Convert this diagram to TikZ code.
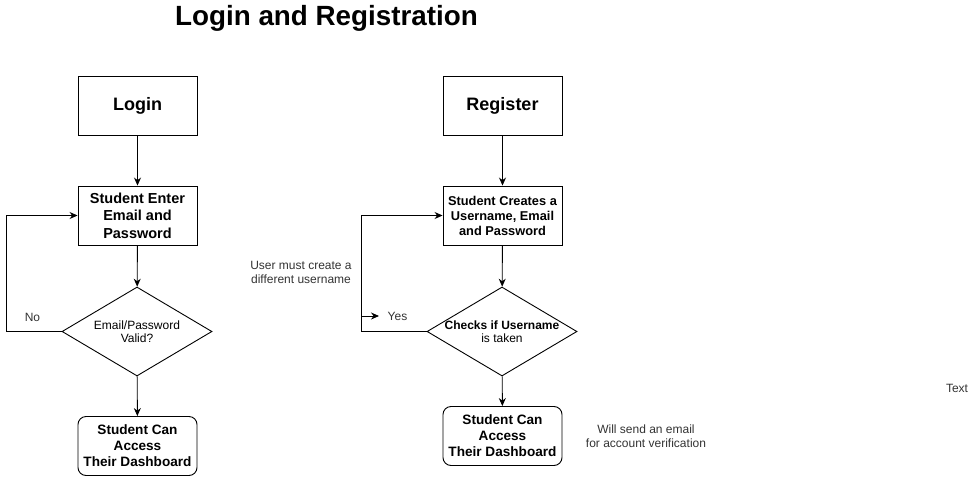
\documentclass[tikz,border=0pt]{standalone}
\usepackage{fontspec}
\setmainfont{Liberation Sans}
\usetikzlibrary{shapes.geometric,arrows.meta}
\definecolor{lbl}{HTML}{333333}
\tikzset{
  x=1pt,y=-1pt,
  conn/.style={line width=0.9pt,-{Stealth[length=8pt,width=7pt]}},
  rbox/.style={draw,line width=0.9pt,minimum width=119pt,minimum height=59pt,inner sep=0pt,align=center},
  rrbox/.style={rbox,rounded corners=8pt},
  dmd/.style={draw,diamond,line width=0.9pt,minimum width=150pt,minimum height=89pt,inner sep=0pt},
  freelbl/.style={text=lbl,align=center,font=\fontsize{12}{14}\selectfont,inner sep=0pt},
}
\begin{document}
\begin{tikzpicture}
\useasboundingbox (0,0) rectangle (978,477);
\node[font=\bfseries\fontsize{27.8}{30}\selectfont,inner sep=0pt] (title) at (326.5,18) {Login and Registration};

% Login column
\node[rbox,font=\bfseries\fontsize{18}{20}\selectfont] (l1) at (137.5,105.5) {Login};
\node[rbox,font=\bfseries\fontsize{14.5}{17.5}\selectfont] (l2) at (137.5,215.5) {Student Enter\\Email and\\Password};
\node[dmd,label={[font=\fontsize{12}{13}\selectfont,align=center]center:Email/Password\\Valid?}] (l3) at (137,331.5) {};
\node[rrbox,font=\bfseries\fontsize{13.6}{16}\selectfont] (l4) at (137.5,446) {Student Can\\Access\\Their Dashboard};
\draw[conn] (l1) -- (l2);
\draw[conn] (l2) -- (l3);
\draw[conn] (l3) -- (l4);
\draw[conn] (l3.west) -- ++(-55,0) |- (l2.west);
\node[freelbl] (no) at (32.5,317) {No};

% Register column
\node[rbox,font=\bfseries\fontsize{18}{20}\selectfont] (r1) at (502.5,105.5) {Register};
\node[rbox,font=\bfseries\fontsize{12.8}{15}\selectfont] (r2) at (502.5,215.5) {Student Creates a\\Username, Email\\and Password};
\node[dmd,label={[align=center,font=\fontsize{12}{13}\selectfont]center:{\bfseries Checks if Username}\\is taken}] (r3) at (502,331.5) {};
\node[rrbox,font=\bfseries\fontsize{13.6}{16}\selectfont] (r4) at (502.5,436) {Student Can\\Access\\Their Dashboard};
\draw[conn] (r1) -- (r2);
\draw[conn] (r2) -- (r3);
\draw[conn] (r3) -- (r4);
\draw[conn] (r3.west) -- ++(-65,0) |- (r2.west);
\coordinate (ya) at (362,316);
\coordinate (yb) at (379,316);
\draw[conn] (ya) -- (yb);
\node[freelbl] (yes) at (397.5,316) {Yes};
\node[freelbl] (must) at (301,272) {User must create a\\different username};
\node[freelbl] (verify) at (646,436.5) {Will send an email\\for account verification};
\node[freelbl] (txt) at (957,388) {Text};
\end{tikzpicture}
\end{document}
